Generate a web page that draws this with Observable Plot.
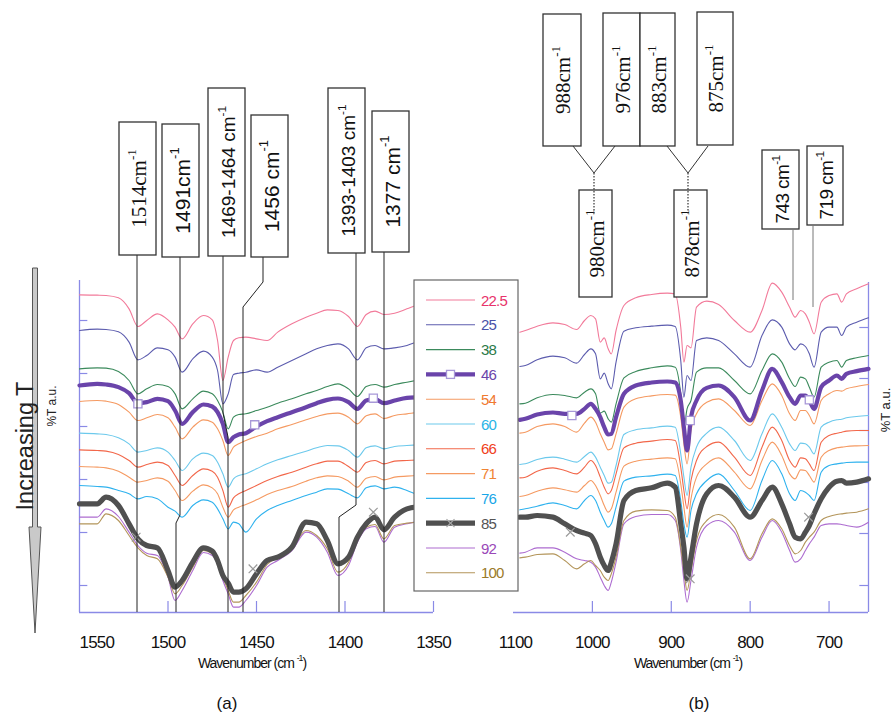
<!DOCTYPE html>
<html><head><meta charset="utf-8">
<script src="https://cdn.jsdelivr.net/npm/d3@7"></script>
<script src="https://cdn.jsdelivr.net/npm/@observablehq/plot@0.6"></script>
<style>
body{margin:0;background:#fff;}
#chart{position:relative;width:893px;height:717px;overflow:hidden;}
</style></head><body><div id="chart"></div>
<script>
// ---------- DATA ----------
const series = ["22.5","25","38","46","54","60","66","71","76","85","92","100"];
const lineColors = ["#f27a9a","#5c5cae","#3b8a5c","#6a44aa","#f59a62","#6cc9ec","#f2674a","#f59a62","#2fb2ee","#505050","#ad6cd0","#b3955a"];
const textColors = ["#e8336b","#4a52a8","#2a7a48","#6a44aa","#f07a30","#2ab4e6","#f04020","#f08434","#18a6e8","#555555","#9a48b8","#9a7a2a"];

// panel (a) wavenumbers (cm-1) and %T (a.u.) per temperature
const waveA = [1550,1540,1535,1528,1522,1517,1512,1506,1500,1496,1492,1486,1480,1475,1472,1469,1466,1463,1460,1456,1450,1444,1438,1430,1422,1416,1410,1404,1398,1393,1388,1383,1378,1372,1365,1358,1350];
const a22_5 = [89.7,89.6,89.5,88.8,85.5,80.2,82.0,84.0,82.2,80.0,76.5,81.0,83.5,82.2,76.0,64.0,71.0,76.0,76.8,77.0,76.5,76.0,78.5,81.0,83.0,84.2,85.2,85.0,83.2,80.2,83.8,84.8,83.8,84.2,85.5,86.8,87.5];
const a25 = [79.0,79.4,79.3,78.6,75.5,70.2,71.5,73.8,73.2,71.0,66.5,70.5,72.8,71.0,67.0,57.0,60.0,65.8,66.2,66.5,67.2,66.5,68.0,70.0,72.0,73.5,74.5,75.0,73.5,70.2,73.8,74.5,73.5,73.8,74.5,75.8,76.5];
const a38 = [67.5,67.8,67.7,66.7,64.0,60.0,61.5,62.8,62.2,60.0,55.5,58.5,60.8,60.0,58.0,54.5,49.5,53.0,53.8,54.0,55.0,56.0,57.2,58.5,60.0,61.0,62.2,63.0,61.5,59.2,62.2,62.8,62.0,62.8,63.5,64.2,65.0];
const a46 = [62.5,63.0,62.8,62.0,60.2,57.2,57.5,58.5,57.8,55.0,51.0,54.5,56.8,56.2,54.5,51.0,45.5,47.0,47.8,48.2,50.2,51.8,53.0,54.5,56.0,57.2,58.2,58.6,57.5,55.5,58.0,58.4,57.2,58.0,58.8,59.0,59.2];
const a54 = [57.7,58.0,57.8,56.8,54.5,52.0,52.8,53.8,52.8,50.0,46.5,50.0,52.2,51.5,49.5,46.0,41.5,44.0,45.0,46.0,47.2,48.2,49.5,50.8,52.2,53.2,54.0,54.2,53.0,51.0,53.4,54.0,52.6,53.5,54.0,54.5,54.7];
const a60 = [48.2,48.0,47.8,46.8,45.0,42.5,43.0,43.8,42.5,40.0,37.0,40.5,42.2,41.5,39.5,36.0,32.0,34.5,35.5,36.0,37.5,39.0,40.2,41.5,42.8,43.8,44.5,44.4,43.0,41.0,43.8,44.4,43.5,44.2,44.5,44.7,44.8];
const a66 = [43.2,43.0,42.8,41.8,40.0,38.0,38.8,39.5,38.5,35.5,32.5,35.5,37.5,36.8,35.0,31.0,26.0,28.8,30.0,31.0,32.5,34.0,35.2,36.5,38.0,39.0,39.8,39.8,38.2,36.5,39.4,40.0,39.0,39.8,40.0,40.2,40.4];
const a71 = [38.2,38.0,37.8,36.8,35.0,33.5,34.0,34.8,33.8,31.0,28.0,30.8,32.7,31.8,30.0,26.0,23.0,25.2,26.0,26.8,28.2,29.8,31.0,32.2,33.8,34.8,35.4,35.2,33.8,32.0,34.7,35.2,34.2,35.0,35.3,35.5,35.6];
const a76 = [32.5,32.2,32.0,31.0,30.0,28.5,29.2,28.5,26.0,24.8,23.0,26.5,28.2,27.5,25.5,22.5,19.5,21.5,21.0,18.5,22.5,25.0,26.5,28.0,29.5,30.5,31.5,31.4,30.0,28.8,31.8,32.4,31.5,32.0,31.0,29.5,28.8];
const a85 = [27.0,27.0,29.0,26.5,21.0,16.5,14.5,13.8,7.0,2.0,4.0,9.5,13.8,12.8,10.0,5.5,3.2,0.5,0.5,1.5,6.0,10.0,11.0,14.0,21.5,21.0,16.0,9.0,11.0,17.0,21.0,23.0,19.2,23.0,25.5,26.2,26.5];
const a92 = [23.0,23.0,25.5,23.2,18.5,14.5,12.2,11.5,5.0,-2.0,1.0,7.0,12.4,11.5,9.0,4.0,0.0,-4.0,-4.0,-2.0,2.5,8.0,10.0,13.0,18.5,17.0,12.5,5.5,8.5,15.5,19.5,20.2,15.5,20.0,21.0,21.8,22.2];
const a100 = [21.0,21.0,24.0,22.0,17.5,13.8,11.5,10.5,5.0,0.0,2.5,8.0,13.0,12.0,10.0,5.0,1.0,-2.5,-2.5,-0.5,3.5,8.8,11.0,13.8,19.0,17.5,13.5,6.5,9.5,16.5,20.0,20.8,16.5,20.5,21.2,21.5,21.7];

// panel (b)
const waveB = [1092,1085,1070,1050,1035,1020,1010,1002,996,990,985,980,976,970,960,945,925,905,895,888,884,880,875,868,855,840,820,800,785,772,760,750,743,736,730,725,719,710,700,690,684,678,665,650];
const b22_5 = [78.5,79.0,80.3,81.3,80.8,79.3,82.0,83.5,82.5,75.5,76.8,73.5,72.0,79.0,86.5,88.8,89.8,90.2,90.0,80.0,69.5,74.5,73.8,86.0,87.8,86.8,82.0,78.5,85.0,93.2,90.5,86.0,83.0,85.0,84.0,81.5,78.0,87.5,89.5,90.0,87.5,90.0,91.5,93.0];
const b25 = [68.2,68.5,70.2,71.3,70.8,69.2,71.8,73.5,72.0,64.5,66.2,63.0,61.5,69.5,78.8,79.8,80.3,80.6,80.2,70.0,59.0,65.5,64.0,76.0,76.8,76.0,72.0,68.0,77.5,82.2,80.0,75.0,73.2,75.0,74.2,72.0,68.0,78.5,80.0,80.0,77.5,80.0,81.5,82.8];
const b38 = [57.0,57.2,58.8,59.8,59.5,58.8,60.5,61.5,60.0,54.2,54.8,52.5,51.5,57.0,64.8,66.7,67.8,68.4,68.0,60.0,50.0,55.5,58.0,66.5,67.8,67.8,64.0,60.0,67.0,72.0,69.5,64.5,62.2,65.0,64.5,62.0,59.0,68.0,69.5,70.0,68.0,70.0,70.8,71.5];
const b46 = [52.2,52.5,53.8,54.4,54.0,54.0,55.5,57.0,55.5,53.0,50.0,47.8,48.0,53.0,60.0,62.5,63.4,63.7,63.4,58.0,50.0,43.0,53.0,58.0,61.8,62.5,59.0,52.0,61.0,67.5,63.5,59.0,57.0,59.5,59.5,58.0,55.5,62.0,64.0,65.5,64.5,66.0,66.8,67.5];
const b54 = [48.2,48.5,50.2,51.0,50.2,48.5,51.2,53.0,51.5,48.0,45.5,43.2,43.5,48.0,56.0,58.5,59.4,59.8,59.6,53.0,45.0,39.0,49.0,54.0,57.5,58.5,55.0,50.5,58.0,63.0,59.5,54.0,52.0,55.0,55.0,53.5,51.0,58.0,60.0,61.0,60.8,61.5,62.2,62.8];
const b60 = [38.8,39.0,40.3,41.0,40.4,39.5,41.2,42.5,41.0,38.0,35.5,33.2,33.5,38.5,47.8,49.2,49.8,50.3,50.0,42.0,35.0,29.5,38.0,44.0,48.2,50.0,46.0,40.0,48.0,54.0,50.0,45.0,43.0,45.2,45.0,44.0,42.0,50.0,51.5,52.2,52.4,52.8,53.2,53.5];
const b66 = [34.8,35.0,36.8,37.8,37.0,36.0,38.0,40.0,38.5,35.0,32.0,30.0,31.0,36.0,43.8,45.2,45.8,46.3,46.0,38.0,31.0,25.5,34.0,40.0,44.2,45.5,41.0,35.5,44.0,50.0,46.0,40.0,38.0,40.8,40.5,39.0,37.0,45.5,47.5,48.2,48.5,48.8,49.0,49.0];
const b71 = [29.2,29.5,30.8,31.8,31.2,30.5,32.5,34.0,32.5,29.5,26.5,24.5,25.5,30.5,38.3,39.8,40.4,40.8,40.5,33.0,26.0,20.0,28.5,35.0,39.0,40.8,36.5,31.5,40.0,45.5,41.5,36.0,34.5,37.2,37.0,35.5,33.5,41.0,43.0,43.8,44.0,44.2,44.4,44.5];
const b76 = [25.2,25.5,26.3,27.3,26.5,25.5,28.0,29.5,28.0,24.5,22.0,20.0,21.0,26.0,33.8,35.0,35.4,35.9,35.5,28.0,21.0,17.0,25.0,30.0,34.0,36.0,31.0,25.0,34.0,40.0,36.0,30.0,28.0,31.0,30.5,29.5,28.0,36.5,38.5,39.0,39.2,39.4,39.5,39.5];
const b85 = [23.0,23.0,23.5,23.0,21.0,19.0,18.2,17.5,15.0,11.0,8.5,7.0,9.5,15.0,28.0,31.0,31.8,33.2,32.0,21.0,14.0,4.5,11.0,21.0,30.0,32.5,29.0,23.0,28.0,32.0,27.0,21.0,17.0,16.5,18.5,20.5,24.0,28.5,32.0,33.8,34.0,33.2,33.5,34.5];
const b92 = [12.2,12.5,13.8,13.8,12.5,10.5,10.0,9.5,8.0,5.0,2.5,1.0,3.5,9.5,21.0,23.2,23.8,23.8,22.0,13.0,4.0,-2.5,4.0,14.0,20.5,22.0,18.5,10.0,17.0,22.0,18.5,13.0,9.5,10.5,13.0,15.0,17.0,20.5,21.0,21.0,20.8,20.5,20.0,21.5];
const b100 = [10.8,11.0,11.8,12.0,10.0,7.5,9.0,10.0,8.5,7.0,5.0,4.0,6.0,11.0,22.0,24.8,25.2,25.0,23.0,14.0,7.0,1.0,7.0,16.0,22.0,23.8,20.0,10.5,18.0,22.5,19.5,14.5,12.0,13.0,15.5,17.0,18.5,22.0,23.2,23.8,24.0,24.2,24.5,25.5];

// marker positions on the 46 and 85 curves
const mark46Wave = [1517,1451,1384,1026,876,725];
const mark46T = [57.0,50.7,58.7,53.5,52.0,58.2];
const mark85Wave = [1518,1452,1384,1028,876,726];
const mark85T = [17.0,7.5,24.5,18.5,4.5,23.0];

// axis ticks
const xTicksA = [1550,1500,1450,1400,1350];
const xTicksB = [1100,1000,900,800,700];
const yTicksA = [82.0,66.1,50.2,34.3,18.4,2.5];
const yTicksB = [79.9,64.6,49.0,33.4,18.1,2.5];

// peak annotation labels
const labelsA = ["1514","1491","1469-1464 ","1456 ","1393-1403 ","1377 "];
const labelsB = ["988","976","883","875","980","878","743 ","719 "];

// ---------- BUILD ----------
const valuesA = [a22_5,a25,a38,a46,a54,a60,a66,a71,a76,a85,a92,a100];
const valuesB = [b22_5,b25,b38,b46,b54,b60,b66,b71,b76,b85,b92,b100];
const rows = [];
series.forEach((s,i) => {
  waveA.forEach((w,j) => rows.push({panel:"a", s, w, t: valuesA[i][j]}));
  waveB.forEach((w,j) => rows.push({panel:"b", s, w, t: valuesB[i][j]}));
});
const thin = rows.filter(d => d.s !== "46" && d.s !== "85");
const thick46 = rows.filter(d => d.s === "46");
const thick85 = rows.filter(d => d.s === "85");
const m46 = mark46Wave.map((w,i) => ({w, t: mark46T[i]}));
const m85 = mark85Wave.map((w,i) => ({w, t: mark85T[i]}));

const AX = "#8a8ae6";
const Y0 = -5.6, YTOPA = 94, YTOPB = 93.4;
const sans = "'Liberation Sans', Arial, sans-serif";
const serif = "'Liberation Serif', 'Times New Roman', serif";

const plot = Plot.plot({
  width: 893, height: 717,
  marginTop: 0, marginRight: 0, marginBottom: 0, marginLeft: 0,
  style: {background: "white", overflow: "visible", fontFamily: sans},
  x: {type: "linear", domain: [1550,1350,1100,650], range: [79,433,513,868], axis: null},
  y: {type: "linear", domain: [Y0, YTOPA], range: [612, 280], axis: null},
  color: {type: "ordinal", domain: series, range: lineColors},
  marks: [
    // axes lines
    Plot.ruleY([{x1:1550,x2:1350},{x1:1100,x2:650}], {y: Y0, x1: "x1", x2: "x2", stroke: AX, strokeWidth: 1.3}),
    Plot.ruleX([1550], {x: d => d, y1: Y0, y2: YTOPA, stroke: AX, strokeWidth: 1.3}),
    Plot.ruleX([650], {x: d => d, y1: Y0, y2: YTOPB, stroke: AX, strokeWidth: 1.3}),
    Plot.ruleX(xTicksA.slice(1), {x: d => d, y1: Y0, y2: Y0 + 3.3, stroke: AX, strokeWidth: 1.2}),
    Plot.ruleX(xTicksB.slice(1), {x: d => d, y1: Y0, y2: Y0 + 3.3, stroke: AX, strokeWidth: 1.2}),
    Plot.ruleY(yTicksA, {y: d => d, x1: 1550, x2: 1545.3, stroke: AX, strokeWidth: 1.2}),
    Plot.ruleY(yTicksB, {y: d => d, x1: 650, x2: 661, stroke: AX, strokeWidth: 1.2}),
    // tick labels
    Plot.text([xTicksA[0]], {x: d => d, y: Y0, dy: 30, text: d => String(d), textAnchor: "start", fontSize: 17, fill: "#111"}),
    Plot.text(xTicksA.slice(1), {x: d => d, y: Y0, dy: 30, text: d => String(d), fontSize: 17, fill: "#111"}),
    Plot.text([xTicksB[0]], {x: d => d, y: Y0, dy: 30, dx: 2, text: d => String(d), fontSize: 17, fill: "#111"}),
    Plot.text(xTicksB.slice(1), {x: d => d, y: Y0, dy: 30, text: d => String(d), fontSize: 17, fill: "#111"}),
    // spectra
    Plot.line(thin, {x: "w", y: "t", z: d => d.panel + d.s, stroke: "s", strokeWidth: 1.1, curve: "monotone-x"}),
    Plot.line(thick46, {x: "w", y: "t", z: "panel", stroke: "s", strokeWidth: 4.2, curve: "monotone-x"}),
    Plot.line(thick85, {x: "w", y: "t", z: "panel", stroke: "s", strokeWidth: 5.2, curve: "monotone-x"}),
    Plot.dot(m46, {x: "w", y: "t", symbol: "square", r: 4.6, fill: "white", stroke: "#a898d8", strokeWidth: 1.3}),
    Plot.dot(m85, {x: "w", y: "t", symbol: "times", r: 4, stroke: "#9a9a9a", strokeWidth: 1.2})
  ]
});
document.getElementById("chart").appendChild(plot);

// tick label font
d3.select(plot).selectAll("text").style("font-family", sans).style("letter-spacing", "-0.8px");

// ---------- OVERLAY (annotations, legend, arrow) ----------
const svg = d3.select(plot);
const g = svg.append("g").attr("text-anchor", "start");

function superText(sel, main, sup, family, size, ls) {
  sel.style("font-family", family).style("font-size", size + "px").attr("fill", "#111");
  if (ls) sel.style("letter-spacing", ls);
  sel.append("tspan").text(main);
  sel.append("tspan").attr("baseline-shift", "super").style("font-size", (size*0.62) + "px").text(sup);
}
function box(x, y, w, h, main, family, size, ls) {
  g.append("rect").attr("x", x).attr("y", y).attr("width", w).attr("height", h)
    .attr("fill", "white").attr("stroke", "#333").attr("stroke-width", 1.3);
  const t = g.append("text").attr("text-anchor", "middle").attr("dominant-baseline", "central")
    .attr("transform", `translate(${x + w/2 + 1},${y + h/2}) rotate(-90)`);
  superText(t, main + "cm", "-1", family, size, ls);
}
function poly(pts, color, width, dash) {
  g.append("path").attr("d", d3.line()(pts)).attr("fill", "none")
    .attr("stroke", color).attr("stroke-width", width).attr("stroke-dasharray", dash || null);
}

// leader lines panel (a)
const leadCol = "#222";
poly([[137,255],[137,612]], leadCol, 1);
poly([[180,257],[180,515],[176,523],[176,612]], leadCol, 1);
poly([[223,256],[223,413],[228,437],[228,612]], leadCol, 1);
poly([[263,257],[263,282],[243,307],[243,612]], leadCol, 1);
poly([[356,253],[356,505],[339,517],[339,612]], leadCol, 1);
poly([[384,252],[384,612]], leadCol, 1);

// boxes panel (a)
box(119,122,37,133, labelsA[0], serif, 21);
box(162,124,37,133, labelsA[1], sans, 21);
box(208,88,37,168, labelsA[2], sans, 19);
box(251,115,37,142, labelsA[3], sans, 21);
box(328,88,37,165, labelsA[4], sans, 19);
box(372,111,37,141, labelsA[5], sans, 21);

// panel (b) boxes and connectors
box(543,14,38,132, labelsB[0], serif, 21);
box(603,13,37,133, labelsB[1], serif, 21);
box(640,13,35,133, labelsB[2], serif, 21);
box(697,12,36,133, labelsB[3], serif, 21);
box(579,190,33,107, labelsB[4], serif, 21);
box(674,190,33,107, labelsB[5], serif, 21);
poly([[573,146],[594,173],[615,146]], "#333", 1);
poly([[667,146],[688,173],[708,146]], "#333", 1);
poly([[594,173],[594,214]], "#333", 1.2, "1.5,1.5");
poly([[688,173],[688,214]], "#333", 1.2, "1.5,1.5");
box(762,150,37,79, labelsB[6], sans, 19, "-0.6px");
box(807,146,36,79, labelsB[7], sans, 19, "-0.6px");
poly([[793,229],[793,300]], "#777", 1);
poly([[813,225],[813,307]], "#777", 1);

// legend
const L = {x:414, y:280, w:104, h:311, lx1:426, lx2:475, tx:481, y0:300, step:24.8};
g.append("rect").attr("x", L.x).attr("y", L.y).attr("width", L.w).attr("height", L.h)
  .attr("fill", "white").attr("stroke", "#666").attr("stroke-width", 1.2);
series.forEach((s, i) => {
  const yy = L.y0 + i * L.step;
  const w = s === "46" ? 4.2 : s === "85" ? 5.2 : 1.1;
  g.append("line").attr("x1", L.lx1).attr("x2", L.lx2).attr("y1", yy).attr("y2", yy)
    .attr("stroke", lineColors[i]).attr("stroke-width", w);
  if (s === "46") {
    g.append("rect").attr("x", (L.lx1+L.lx2)/2 - 4).attr("y", yy - 4).attr("width", 8).attr("height", 8)
      .attr("fill", "white").attr("stroke", "#a898d8").attr("stroke-width", 1.3);
  }
  if (s === "85") {
    const cx = (L.lx1+L.lx2)/2;
    poly([[cx-4,yy-4],[cx+4,yy+4]], "#aaa", 1.2);
    poly([[cx-4,yy+4],[cx+4,yy-4]], "#aaa", 1.2);
  }
  g.append("text").attr("x", L.tx).attr("y", yy).attr("text-anchor", "start").attr("dominant-baseline", "central")
    .style("font-family", sans).style("font-size", "15px").style("letter-spacing", "-0.8px")
    .attr("fill", textColors[i]).text(s);
});

// "Increasing T" arrow
g.append("path")
  .attr("d", "M32.5,268 L37.5,268 L37.5,527 L41,527 L35,633 L29,527 L32.5,527 Z")
  .attr("fill", "#c9c9c9").attr("stroke", "#555").attr("stroke-width", 1);
g.append("text").attr("transform", "translate(25,446) rotate(-90)")
  .attr("text-anchor", "middle").attr("dominant-baseline", "central")
  .style("font-family", sans).style("font-size", "23.5px").attr("fill", "#222").text("Increasing T");

// y axis titles
g.append("text").attr("transform", "translate(52,406) rotate(-90)")
  .attr("text-anchor", "middle").attr("dominant-baseline", "central")
  .style("font-family", sans).style("font-size", "12px").attr("fill", "#222").text("%T a.u.");
g.append("text").attr("transform", "translate(885,410) rotate(-90)")
  .attr("text-anchor", "middle").attr("dominant-baseline", "central")
  .style("font-family", sans).style("font-size", "13px").attr("fill", "#222").text("%T a.u.");

// x axis titles and panel labels
[[252,"a"],[688,"b"]].forEach(([cx, p]) => {
  const t = g.append("text").attr("x", cx).attr("y", 663).attr("text-anchor", "middle")
    .attr("dominant-baseline", "central");
  superText(t, "Wavenumber (cm ", "-1", sans, 14, "-1px");
  t.append("tspan").text(")");
  g.append("text").attr("x", cx === 252 ? 227 : 699).attr("y", 703).attr("text-anchor", "middle")
    .attr("dominant-baseline", "central").style("font-family", sans).style("font-size", "17px")
    .attr("fill", "#111").text("(" + p + ")");
});
</script>
</body></html>
